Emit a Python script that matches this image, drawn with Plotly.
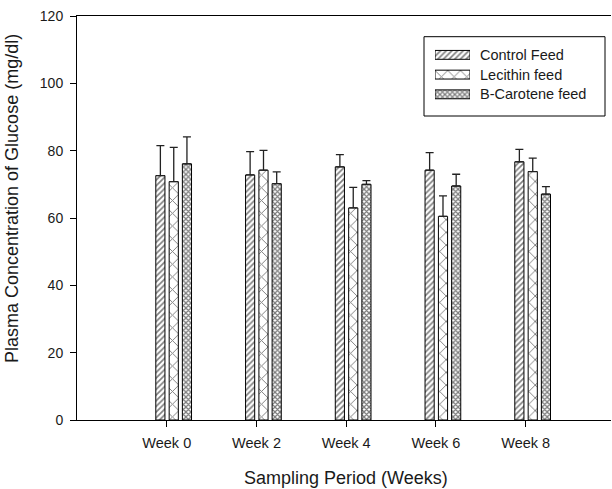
import plotly.graph_objects as go

weeks = ["Week 0", "Week 2", "Week 4", "Week 6", "Week 8"]
control = [72.6, 72.8, 75.2, 74.2, 76.7]
control_err = [8.9, 6.9, 3.6, 5.2, 3.7]
lecithin = [70.8, 74.2, 63.0, 60.5, 73.8]
lecithin_err = [10.2, 5.9, 6.1, 6.1, 4.0]
bcarotene = [76.1, 70.2, 70.0, 69.5, 67.1]
bcarotene_err = [8.0, 3.5, 1.1, 3.5, 2.2]
series_names = ["Control Feed", "Lecithin feed", "B-Carotene feed"]

patterns = [
    dict(shape="/", size=4, solidity=0.42),
    dict(shape="x", size=9, solidity=0.2),
    dict(shape="x", size=3.5, solidity=0.6),
]
offsets = [-0.122, 0.027, 0.174]

fig = go.Figure()
for name, vals, errs, pat, off in zip(series_names,
                                      [control, lecithin, bcarotene],
                                      [control_err, lecithin_err, bcarotene_err],
                                      patterns, offsets):
    fig.add_trace(go.Bar(
        x=weeks, y=vals, name=name, showlegend=False,
        offset=off, width=0.102,
        marker=dict(color="white", line=dict(color="black", width=1),
                    pattern=dict(fgcolor="black", bgcolor="white", **pat)),
        error_y=dict(type="data", array=errs, symmetric=False,
                     arrayminus=[0] * len(errs), color="#222", thickness=1.3, width=4),
    ))

# custom legend swatches (wide patterned rectangles) on a small helper axis
for name, pat in zip(series_names, patterns):
    fig.add_trace(go.Bar(
        x=[1], y=[name], orientation="h", xaxis="x2", yaxis="y2",
        width=0.45, showlegend=False, hoverinfo="skip",
        marker=dict(color="white", line=dict(color="black", width=1),
                    pattern=dict(fgcolor="black", bgcolor="white", **pat)),
    ))

W0, W1, H0, H1 = 77, 611, 16, 420
def px(x):
    return (x - W0) / (W1 - W0)
def py(y):
    return (H1 - y) / (H1 - H0)

annotations = []
row_y = [55, 74.5, 94.2]
for name, yy in zip(series_names, row_y):
    annotations.append(dict(text=name, x=px(478), y=py(yy), xref="paper", yref="paper",
                            xanchor="left", yanchor="middle", showarrow=False,
                            font=dict(size=14.5)))
annotations.append(dict(text="Sampling Period (Weeks)", x=px(346), y=py(478),
                        xref="paper", yref="paper", xanchor="center", yanchor="middle",
                        showarrow=False, font=dict(size=18)))
annotations.append(dict(text="Plasma Concentration of Glucose (mg/dl)", x=px(12), y=py(199),
                        xref="paper", yref="paper", xanchor="center", yanchor="middle",
                        textangle=-90, showarrow=False, font=dict(size=18)))

font_family = "Liberation Sans, Arial, sans-serif"
fig.update_layout(
    width=612, height=489,
    margin=dict(l=W0, r=612 - W1, t=H0, b=489 - H1),
    plot_bgcolor="white", paper_bgcolor="white",
    barmode="overlay",
    font=dict(family=font_family, color="#1a1a1a", size=14),
    showlegend=False,
    annotations=annotations,
    shapes=[dict(type="rect", xref="paper", yref="paper",
                 x0=px(424), x1=px(605), y0=py(116), y1=py(36.7),
                 line=dict(color="black", width=1), fillcolor="rgba(0,0,0,0)", layer="below")],
    xaxis=dict(type="category", range=[-1, 4.95], showline=True, linecolor="black",
               linewidth=1, mirror=True, ticks="outside", ticklen=6, tickcolor="black",
               showgrid=False, zeroline=False, automargin=False,
               tickfont=dict(size=14.5), ticklabelstandoff=4),
    yaxis=dict(range=[0, 120], dtick=20, showline=True, linecolor="black",
               linewidth=1, ticks="outside", ticklen=6, tickcolor="black",
               showgrid=False, zeroline=False, automargin=False,
               tickfont=dict(size=14), ticklabelstandoff=4),
    xaxis2=dict(domain=[px(435), px(470)], range=[0, 1], anchor="y2",
                visible=False, fixedrange=True),
    yaxis2=dict(domain=[py(104.2), py(45)], anchor="x2", type="category",
                categoryorder="array", categoryarray=series_names[::-1],
                range=[-0.5, 2.5], visible=False, fixedrange=True),
)

fig.write_html("out.html", config={"displayModeBar": False},
               post_script="document.body.style.margin='0';document.body.style.padding='0';")
